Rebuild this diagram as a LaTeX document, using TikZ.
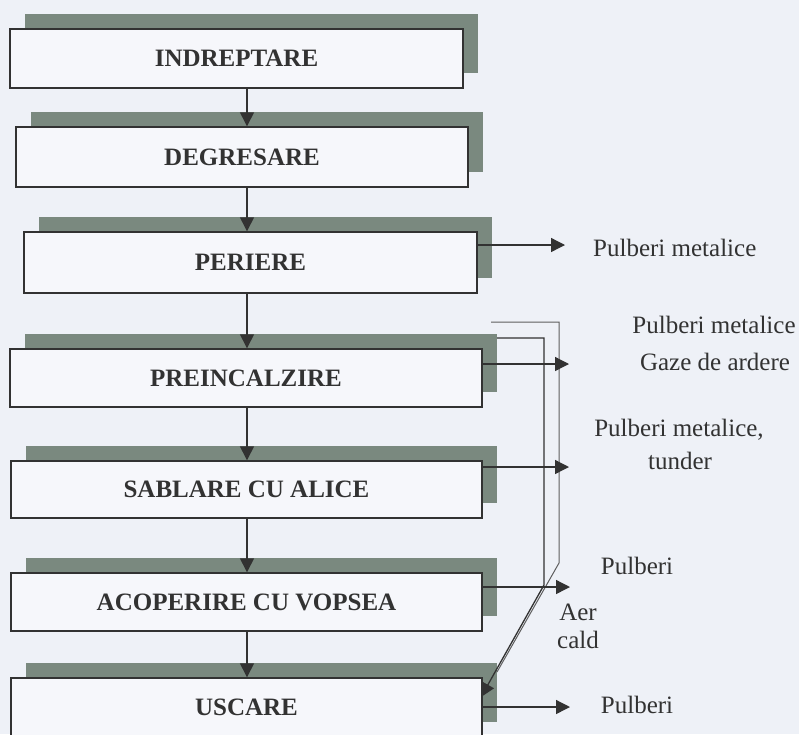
\documentclass[tikz,border=0pt]{standalone}
\usepackage{fontspec}
\setmainfont{Liberation Serif}
\usetikzlibrary{arrows.meta,shadows}
\definecolor{bg}{HTML}{EEF1F7}
\definecolor{boxfill}{HTML}{F6F7FB}
\definecolor{shade}{HTML}{7A897F}
\definecolor{ink}{HTML}{323232}
\definecolor{duct}{HTML}{5E5E5E}
\begin{document}
\begin{tikzpicture}[x=1pt,y=-1pt,
  box/.style={draw=ink, line width=1.4pt, fill=boxfill, text=ink, inner sep=0pt,
    font=\fontsize{25}{29}\selectfont\bfseries,
    general shadow={fill=shade, opacity=1, shadow xshift=15pt, shadow yshift=15pt}},
  lab/.style={font=\fontsize{25}{29}\selectfont, text=ink, inner sep=0pt},
  arr/.style={draw=ink, line width=1.3pt, -{Triangle[length=14pt,width=14pt]}},
  ductline/.style={draw=duct, line width=1pt}]
\useasboundingbox (0,0) rectangle (799,734);
\fill[bg] (0,0) rectangle (799,734);
\clip (0,0) rectangle (799,734);

% process boxes
\node[box, minimum width=453pt, minimum height=59pt] (b1) at (236.5,58.5) {INDREPTARE};
\node[box, minimum width=452pt, minimum height=60pt] (b2) at (242,157) {DEGRESARE};
\node[box, minimum width=453pt, minimum height=61pt] (b3) at (250.5,262.5) {PERIERE};
\node[box, minimum width=472pt, minimum height=58pt] (b4) at (246,378) {PREINCALZIRE};
\node[box, minimum width=471pt, minimum height=57pt] (b5) at (246.5,489.5) {SABLARE CU ALICE};
\node[box, minimum width=471pt, minimum height=58pt] (b6) at (246.5,602) {ACOPERIRE CU VOPSEA};
\node[box, minimum width=471pt, minimum height=59pt] (b7) at (246.5,707.5) {USCARE};

% main flow
\coordinate (ax) at (247,0);
\draw[arr] (b1.south -| ax) -- (b2.north -| ax);
\draw[arr] (b2.south -| ax) -- (b3.north -| ax);
\draw[arr] (b3.south -| ax) -- (b4.north -| ax);
\draw[arr] (b4.south -| ax) -- (b5.north -| ax);
\draw[arr] (b5.south -| ax) -- (b6.north -| ax);
\draw[arr] (b6.south -| ax) -- (b7.north -| ax);

% hot air duct from PREINCALZIRE to USCARE
\coordinate (o1) at (491,322);
\coordinate (o2) at (559,322);
\coordinate (o3) at (559,563);
\coordinate (o4) at (497,672);
\draw[ductline] (o1) -- (o2) -- (o3) -- (o4);
\coordinate (i1) at (497,338);
\coordinate (i2) at (544,338);
\coordinate (i3) at (544,585);
\coordinate (i4) at (481,697);
\draw[arr] (i1) -- (i2) -- (i3) -- (i4);

% outputs
\coordinate (e3) at (565,245);
\coordinate (e4) at (569,364);
\coordinate (e5) at (569,467);
\coordinate (e6) at (570,587);
\coordinate (e7) at (570,707);
\draw[arr] (b3.east |- e3) -- (e3);
\draw[arr] (b4.east |- e4) -- (e4);
\draw[arr] (b5.east |- e5) -- (e5);
\draw[arr] (b6.east |- e6) -- (e6);
\draw[arr] (b7.east |- e7) -- (e7);

% labels
\node[lab, anchor=west] (l1) at (593,248) {Pulberi metalice};
\node[lab] (l2) at (714,325) {Pulberi metalice};
\node[lab] (l3) at (715,362) {Gaze de ardere};
\node[lab] (l4) at (679,430) {Pulberi metalice,};
\node[lab] (l5) at (680,461) {tunder};
\node[lab] (l6) at (637,566) {Pulberi};
\node[lab] (l7) at (578,612) {Aer};
\node[lab] (l8) at (578,640) {cald};
\node[lab] (l9) at (637,705) {Pulberi};
\end{tikzpicture}
\end{document}
